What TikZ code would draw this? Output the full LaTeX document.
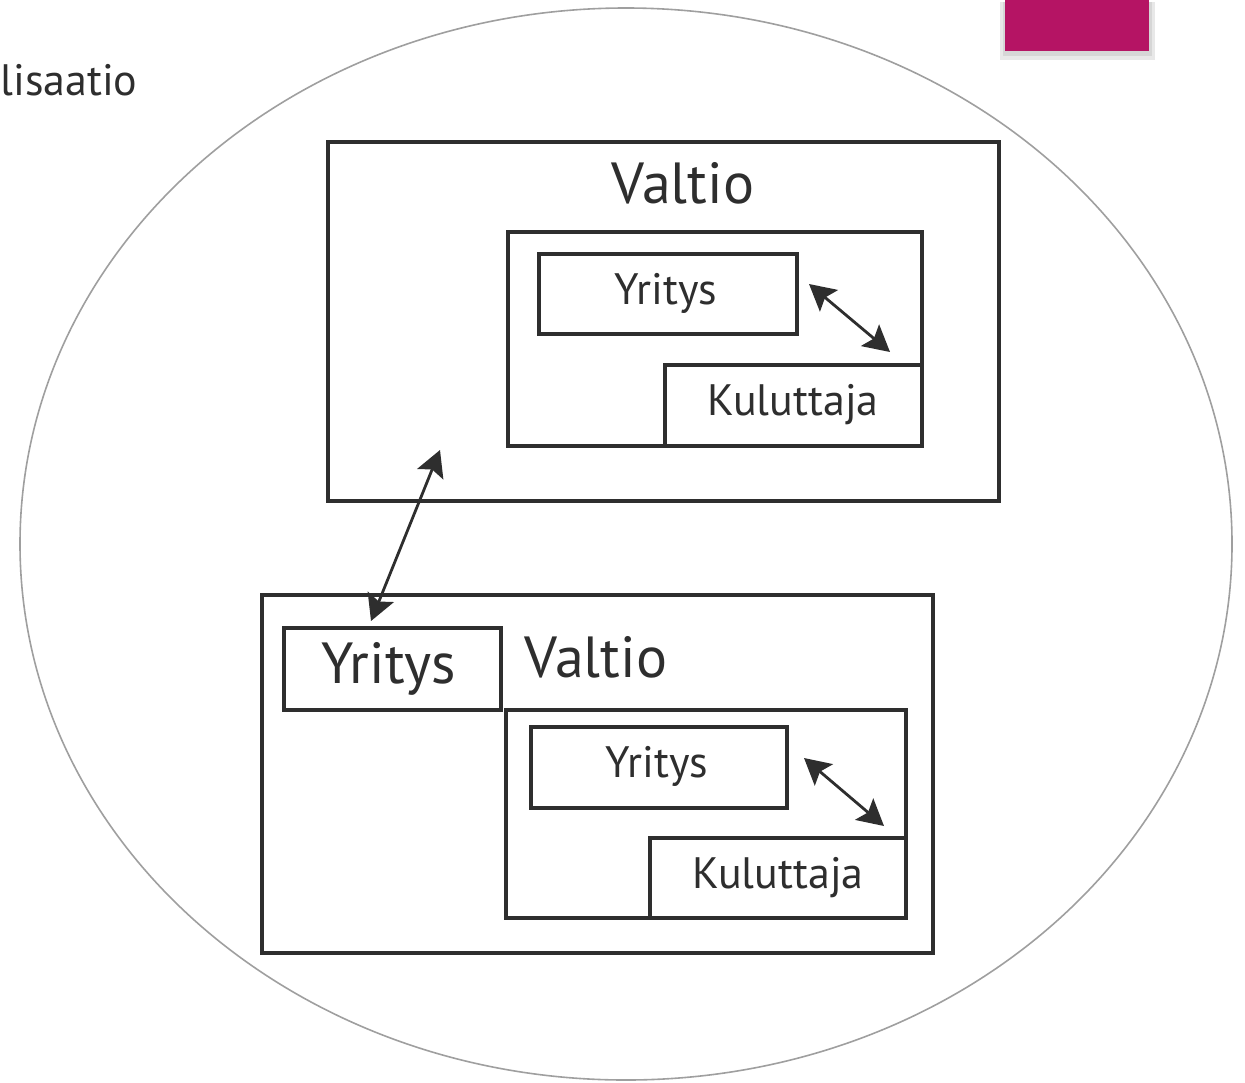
\documentclass[tikz,border=0pt]{standalone}
\usepackage{fontspec}
\setmainfont{PT Sans}
\usetikzlibrary{arrows.meta,fit,shapes.geometric}
\definecolor{ink}{HTML}{2E2E2E}
\definecolor{magentabar}{HTML}{B51464}
\begin{document}
\begin{tikzpicture}[x=0.5pt,y=-0.5pt,
  box/.style={draw=ink,line width=1.7pt,inner sep=0pt,fit={#1}},
  big/.style={text=ink,font=\fontsize{29}{34}\selectfont,inner sep=0pt},
  mid/.style={text=ink,font=\fontsize{22}{26}\selectfont,inner sep=0pt},
  dbl/.style={draw=ink,line width=1.4pt,{Stealth[length=13pt,width=14pt,inset=2.5pt]}-{Stealth[length=13pt,width=14pt,inset=2.5pt]}}]
\useasboundingbox (0,0) rectangle (1245,1082);
% outer ellipse
\node (world) [ellipse,draw=gray!75,line width=0.8pt,inner sep=0pt,
  minimum width=606pt,minimum height=536pt] at (626,544) {};
% magenta bar with shadow
\fill[gray!18] (1000,2) rectangle (1155,60);
\fill[gray!32] (1003,2) rectangle (1152,56);
\fill[magentabar] (1005,-2) rectangle (1149,51);
% corner label
\node (lbl) [mid,text=ink,anchor=base west] at (0,95) {lisaatio};
% top group
\node (v1) [box={(328,142)(999,501)}] {};
\node (v1t) [big] at (683,183) {Valtio};
\node (in1) [box={(508,232)(922,446)}] {};
\node (y1) [box={(539,254)(797,334)}] {};
\node (y1t) [mid] at (666,293) {Yritys};
\node (k1) [box={(665,365)(922,446)}] {};
\node (k1t) [mid] at (793,405) {Kuluttaja};
\coordinate (a1s) at (809,284);
\coordinate (a1e) at (890,352);
\draw[dbl] (a1s) -- (a1e);
% link between groups
\coordinate (l1s) at (440,450);
\coordinate (l1e) at (371,621);
\draw[dbl] (l1s) -- (l1e);
% bottom group
\node (v2) [box={(262,595)(933,953)}] {};
\node (y2) [box={(284,628)(501,710)}] {};
\node (y2t) [big] at (389,669) {Yritys};
\node (v2t) [big] at (596,657) {Valtio};
\node (in2) [box={(506,710)(906,918)}] {};
\node (y3) [box={(531,727)(787,808)}] {};
\node (y3t) [mid] at (657,766) {Yritys};
\node (k2) [box={(650,838)(906,918)}] {};
\node (k2t) [mid] at (778,878) {Kuluttaja};
\coordinate (a2s) at (804,758);
\coordinate (a2e) at (884,826);
\draw[dbl] (a2s) -- (a2e);
\end{tikzpicture}
\end{document}
